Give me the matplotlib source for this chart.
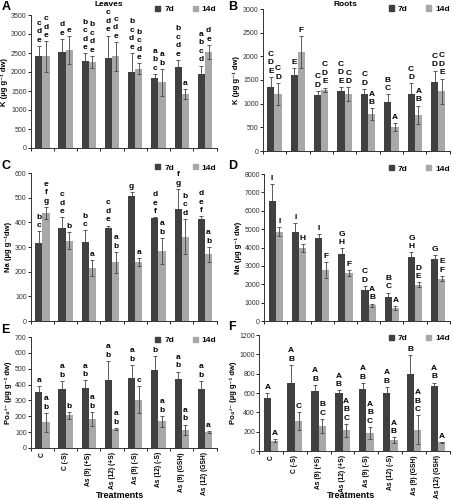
import numpy as np
import matplotlib
matplotlib.use("Agg")
import matplotlib.pyplot as plt
from matplotlib.patches import Patch

plt.rcParams["font.family"] = ["Liberation Sans", "DejaVu Sans"]

treatments = ["C", "C (-S)", "As (9) (+S)", "As (12) (+S)", "As (9) (-S)",
              "As (12) (-S)", "As (9) (GSH)", "As (12) (GSH)"]

# A: K leaves
k_leaf_7 = [2420, 2530, 2290, 2370, 2000, 1840, 2130, 1950]
k_leaf_7_err = [270, 340, 200, 590, 510, 110, 190, 220]
k_leaf_14 = [2410, 2580, 2270, 2410, 2090, 1730, 1430, 2520]
k_leaf_14_err = [400, 370, 160, 390, 140, 350, 130, 190]
k_leaf_7_let = ["cde", "de", "bcde", "cde", "bcde", "abc", "bcde", "abcd"]
k_leaf_14_let = ["cde", "e", "bcde", "cde", "bcde", "ab", "a", "de"]

# B: K roots
k_root_7 = [1360, 1610, 1180, 1270, 1200, 1040, 1210, 1460]
k_root_7_err = [210, 150, 90, 90, 110, 160, 220, 240]
k_root_14 = [1210, 2090, 1290, 1200, 780, 510, 760, 1260]
k_root_14_err = [230, 340, 50, 150, 120, 90, 200, 270]
k_root_7_let = ["CDE", "E", "CD", "CDE", "CD", "BC", "CD", "CD"]
k_root_14_let = ["CD", "F", "CDE", "CD", "AB", "A", "AB", "CDE"]

# C: Na leaves
na_leaf_7 = [318, 376, 320, 377, 506, 416, 455, 415]
na_leaf_7_err = [45, 45, 48, 10, 15, 5, 80, 10]
na_leaf_14 = [438, 326, 215, 238, 240, 285, 342, 270]
na_leaf_14_err = [25, 35, 33, 42, 17, 52, 72, 30]
na_leaf_7_let = ["bc", "cde", "bc", "cde", "g", "def", "fg", "def"]
na_leaf_14_let = ["efg", "b", "a", "ab", "a", "ab", "bcd", "ab"]

# D: Na roots
na_root_7 = [6550, 4820, 4490, 3640, 1710, 1330, 3460, 3370]
na_root_7_err = [900, 520, 230, 320, 200, 220, 280, 200]
na_root_14 = [4870, 3960, 2760, 2610, 850, 710, 1970, 2300]
na_root_14_err = [250, 220, 440, 180, 100, 100, 130, 150]
na_root_7_let = ["I", "I", "I", "GH", "CD", "BC", "GH", "G"]
na_root_14_let = ["I", "H", "F", "F", "AB", "A", "DE", "EF"]

# E: PO4 leaves
po_leaf_7 = [352, 370, 376, 426, 444, 490, 432, 374]
po_leaf_7_err = [38, 55, 50, 125, 80, 90, 50, 50]
po_leaf_14 = [163, 205, 182, 119, 305, 168, 116, 100]
po_leaf_14_err = [60, 22, 45, 8, 85, 35, 32, 8]
po_leaf_7_let = ["a", "ab", "ab", "ab", "ab", "b", "ab", "ab"]
po_leaf_14_let = ["ab", "b", "ab", "ab", "c", "ab", "ab", "a"]

# F: PO4 roots
po_root_7 = [548, 700, 618, 605, 640, 595, 800, 668]
po_root_7_err = [50, 190, 65, 25, 65, 70, 190, 40]
po_root_14 = [105, 308, 258, 213, 185, 113, 218, 92]
po_root_14_err = [15, 95, 75, 70, 65, 30, 150, 5]
po_root_7_let = ["A", "AB", "AB", "AB", "AB", "AB", "B", "AB"]
po_root_14_let = ["A", "C", "BC", "ABC", "ABC", "AB", "ABC", "A"]

dark = "#404040"
light = "#a8a8a8"
fs = 5.0

fig = plt.figure(figsize=(4.53, 5.0), dpi=100)


def panel(rect, tag, tagpos, v7, e7, l7, v14, e14, l14, ymax, ystep, ylabel,
          title=None, xlabels=False):
    ax = fig.add_axes(rect)
    x = np.arange(len(treatments))
    w = 0.31
    ekw = dict(ecolor="#444444", elinewidth=0.6, capsize=1.2, capthick=0.6)
    ax.bar(x - w / 2, v7, w, yerr=e7, color=dark, error_kw=ekw, zorder=2)
    ax.bar(x + w / 2, v14, w, yerr=e14, color=light, error_kw=ekw, zorder=2)
    for xs, vals, errs, lets in ((x - w / 2, v7, e7, l7),
                                 (x + w / 2, v14, e14, l14)):
        for xi, v, e, l in zip(xs, vals, errs, lets):
            ax.annotate("\n".join(l), (xi, v + e), xytext=(0, 1.5),
                        textcoords="offset points", ha="center", va="bottom",
                        fontsize=6, fontweight="bold", linespacing=1.3)
    ax.set_ylim(0, ymax)
    ax.set_yticks(np.arange(0, ymax + 1, ystep))
    ax.set_xlim(-0.5, len(treatments) - 0.5)
    ax.spines["top"].set_visible(False)
    ax.spines["right"].set_visible(False)
    for s in ("left", "bottom"):
        ax.spines[s].set_linewidth(0.7)
        ax.spines[s].set_color("#333333")
    ax.tick_params(axis="y", labelsize=fs, length=2, width=0.6, pad=1,
                   labelcolor="#333333")
    ax.set_xticks(np.arange(-0.5, len(treatments)), minor=True)
    ax.tick_params(axis="x", which="minor", length=2, width=0.6)
    ax.set_xticks(x)
    if xlabels:
        ax.set_xticklabels(treatments, rotation=90, fontsize=4.8,
                           fontweight="bold")
        ax.tick_params(axis="x", which="major", length=0, pad=3)
        fig.text(rect[0] + rect[2] * 0.48, 0.0, "Treatments", fontsize=6.5,
                 fontweight="bold", ha="center", va="bottom")
    else:
        ax.set_xticklabels([])
        ax.tick_params(axis="x", which="major", length=0)
    ax.set_ylabel(ylabel, fontsize=5.5, fontweight="bold", labelpad=2)
    if title:
        fig.text(rect[0] + rect[2] * title[1], 0.99, title[0], fontsize=6,
                 fontweight="bold", ha="center", va="center")
    fig.text(tagpos[0], tagpos[1], tag, fontsize=9, fontweight="bold",
             va="center", ha="left")
    handles = [Patch(color=dark, label="7d"), Patch(color=light, label="14d")]
    ax.legend(handles=handles, loc="center right",
              bbox_to_anchor=(1.0, 1.0 + legy), ncol=2, frameon=False,
              prop={"size": 6, "weight": "bold"}, handlelength=0.6,
              handleheight=0.6, columnspacing=2.2, handletextpad=0.5,
              borderaxespad=0, borderpad=0)
    return ax


legy = 0.04
panel([0.068, 0.704, 0.41, 0.266], "A", (0.003, 0.985),
      k_leaf_7, k_leaf_7_err, k_leaf_7_let,
      k_leaf_14, k_leaf_14_err, k_leaf_14_let, 3500, 500,
      "K (µg g⁻¹ dw)", title=("Leaves", 0.42))
legy = 0.0
panel([0.58, 0.698, 0.413, 0.284], "B", (0.503, 0.985),
      k_root_7, k_root_7_err, k_root_7_let,
      k_root_14, k_root_14_err, k_root_14_let, 3000, 500,
      "K (µg g⁻¹ dw)", title=("Roots", 0.44))
legy = 0.035
panel([0.068, 0.358, 0.41, 0.296], "C", (0.003, 0.668),
      na_leaf_7, na_leaf_7_err, na_leaf_7_let,
      na_leaf_14, na_leaf_14_err, na_leaf_14_let, 600, 100,
      "Na (µg g⁻¹dw)")
panel([0.583, 0.358, 0.41, 0.294], "D", (0.503, 0.668),
      na_root_7, na_root_7_err, na_root_7_let,
      na_root_14, na_root_14_err, na_root_14_let, 8000, 1000,
      "Na (µg g⁻¹ dw)")
legy = -0.03
panel([0.068, 0.104, 0.41, 0.222], "E", (0.003, 0.34),
      po_leaf_7, po_leaf_7_err, po_leaf_7_let,
      po_leaf_14, po_leaf_14_err, po_leaf_14_let, 700, 100,
      "Po₄³⁻ (µg g⁻¹ dw)", xlabels=True)
panel([0.572, 0.098, 0.421, 0.232], "F", (0.503, 0.345),
      po_root_7, po_root_7_err, po_root_7_let,
      po_root_14, po_root_14_err, po_root_14_let, 1200, 200,
      "Po₄³⁻ (µg g⁻¹ dw)", xlabels=True)

fig.savefig("out.png", dpi=100)
